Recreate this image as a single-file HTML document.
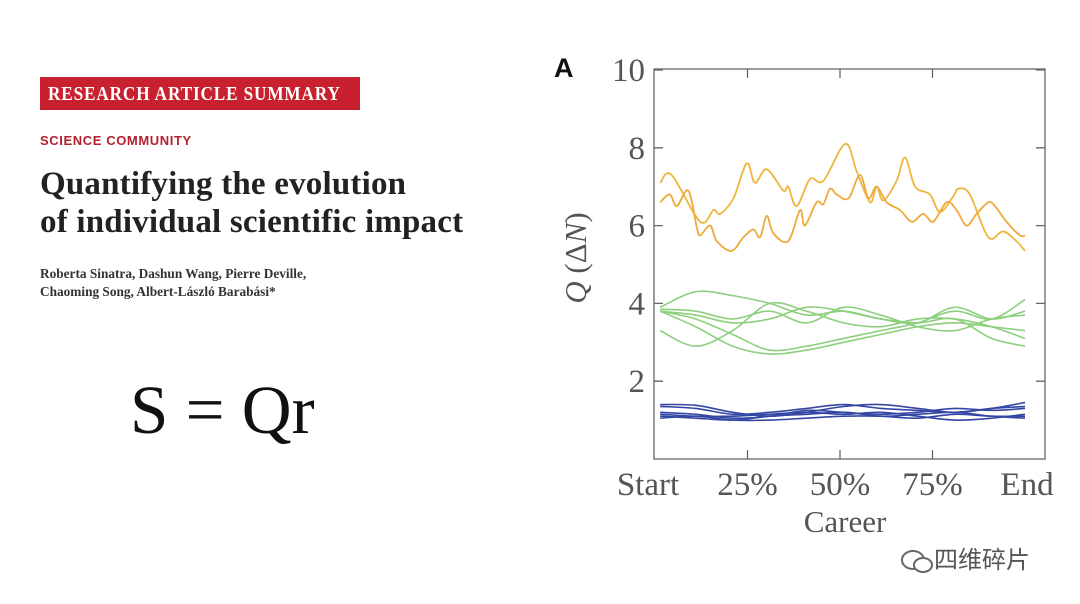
<!DOCTYPE html>
<html><head><meta charset="utf-8"><style>
body{margin:0;width:1080px;height:604px;background:#fff;position:relative;overflow:hidden;font-family:"Liberation Serif",serif}
.abs{position:absolute}
</style></head><body>
<div class="abs" style="left:40px;top:77px;width:320px;height:33px;background:#c8202e"></div>
<div class="abs" style="left:48px;top:80px;color:#fff;font-weight:bold;font-size:20px;letter-spacing:1px;line-height:28px;transform:scaleX(0.86);transform-origin:left;white-space:nowrap">RESEARCH ARTICLE SUMMARY</div>
<div class="abs" style="left:40px;top:133px;color:#b5202e;font-family:'Liberation Sans',sans-serif;font-weight:bold;font-size:13px;letter-spacing:0.6px">SCIENCE COMMUNITY</div>
<div class="abs" style="left:40px;top:165px;color:#222;font-weight:bold;font-size:33px;line-height:38px;letter-spacing:0.2px;white-space:nowrap">Quantifying the evolution<br>of individual scientific impact</div>
<div class="abs" style="left:40px;top:265px;color:#333;font-weight:bold;font-size:13.3px;line-height:18px;white-space:nowrap">Roberta Sinatra, Dashun Wang, Pierre Deville,<br>Chaoming Song, Albert-László Barabási*</div>
<div class="abs" style="left:130px;top:370px;color:#111;font-size:69px;line-height:80px;white-space:nowrap">S = Qr</div>
<div class="abs" style="left:900px;top:540px;color:#555;font-family:'Liberation Sans','Noto Sans CJK SC',sans-serif;font-size:24px">
<svg width="34" height="28" style="vertical-align:middle" viewBox="0 0 34 28"><ellipse cx="13" cy="12" rx="11" ry="9" fill="none" stroke="#666" stroke-width="2"/><ellipse cx="23" cy="17" rx="9" ry="7" fill="#fff" stroke="#666" stroke-width="2"/></svg>四维碎片</div>
<svg class="abs" style="left:0;top:0" width="1080" height="604" id="chart"></svg>
<script>
const xTicks=[0,25,50,75,100];
const xTickLabels=["Start","25%","50%","75%","End"];
const yTicks=[2,4,6,8,10];
const orangeX1=[1.4,4.5,12.2,15.8,17.6,21.2,24.8,27,30.2,34.7,36,38.3,41.9,45.5,51.4,54.5,58.1,59.9,61.7,65.3,67.6,70.3,74.3,77,80.6,82,85.1,90.1,94.1,97.7,100];
const orangeY1=[7.1,7.3,6.1,6.4,6.3,6.7,7.6,7.1,7.45,6.9,7.0,6.5,7.2,7.15,8.1,7.4,6.6,7.0,6.65,7.15,7.75,7.0,6.8,6.35,6.75,6.95,6.8,5.7,5.85,5.6,5.35];
const orangeX2=[1.4,4.0,5.9,9.0,11.3,12.2,14.9,16.7,20.7,23.9,26.6,28.4,30.2,32,36,39.2,40.5,43.7,45.5,47.3,49.1,52.3,55.4,57.7,59.9,62.6,66.2,69.4,72.5,75.2,78.8,81.5,84.2,86.9,90.1,91.9,95,98.6,100];
const orangeY2=[6.6,6.8,6.5,6.9,5.95,5.75,6.0,5.6,5.35,5.7,5.9,5.7,6.25,5.8,5.6,6.4,6.0,6.6,6.55,6.95,6.8,6.7,7.3,6.7,7.0,6.6,6.4,6.1,6.3,6.1,6.6,6.4,6.0,6.3,6.6,6.5,6.1,5.75,5.75];
const gridX=[1.4,11,21,31,41,51,61,71,81,91,100];
const greenSeries=[
[3.9,4.3,4.2,4.0,3.7,3.8,3.6,3.5,3.9,3.6,3.8],
[3.8,3.4,2.9,2.7,2.8,3.0,3.2,3.4,3.5,3.4,3.3],
[3.3,2.9,3.3,4.0,3.8,3.5,3.4,3.6,3.6,3.4,3.1],
[3.8,3.6,3.2,2.8,2.9,3.1,3.3,3.5,3.8,3.6,4.1],
[3.8,3.7,3.5,3.6,3.9,3.8,3.6,3.5,3.6,3.1,2.9],
[3.85,3.8,3.6,3.8,3.5,3.9,3.7,3.4,3.3,3.6,3.7]];
const blueSeries=[
[1.4,1.38,1.2,1.1,1.2,1.35,1.4,1.3,1.2,1.3,1.45],
[1.35,1.3,1.15,1.2,1.3,1.4,1.3,1.25,1.2,1.3,1.35],
[1.2,1.15,1.05,1.1,1.25,1.2,1.15,1.2,1.3,1.25,1.3],
[1.1,1.05,1.0,1.1,1.15,1.2,1.1,1.15,1.2,1.1,1.05],
[1.05,1.1,1.0,1.0,1.05,1.1,1.1,1.05,1.15,1.1,1.1],
[1.15,1.1,1.1,1.15,1.2,1.15,1.2,1.1,1.0,1.05,1.15]];

const svg=document.getElementById('chart');
const NS='http://www.w3.org/2000/svg';
const X0=655,X1=1025,Y0=459,Y10=70;
const sx=v=>X0+(X1-X0)*v/100;
const sy=v=>Y0-(Y0-Y10)*v/10;
function mk(t,a,txt){const e=document.createElementNS(NS,t);for(const k in a)e.setAttribute(k,a[k]);if(txt!==undefined)e.textContent=txt;svg.appendChild(e);return e;}
let f=mk('rect',{x:654,y:69,width:391,height:390,fill:'none',stroke:'#666','stroke-width':1.3});


yTicks.forEach(v=>{
 const y=sy(v);
 let t=mk('path',{d:`M654 ${y}h9M1045 ${y}h-9`,stroke:'#666','stroke-width':1.3});
 
 
 let l=mk('text',{x:645,y:y+11,'text-anchor':'end','font-size':33,fill:'#555','font-family':'Liberation Serif, serif'},String(v));
 
 
});
xTicks.forEach((v,i)=>{
 const x=sx(v);
 if(i>0&&i<4){let t=mk('path',{d:`M${x} 459v-9M${x} 69v9`,stroke:'#666','stroke-width':1.3});
 
 }
 let l=mk('text',{x:x-(i==0?7:0)+(i==4?2:0),y:495,'text-anchor':'middle','font-size':33,fill:'#555','font-family':'Liberation Serif, serif'},xTickLabels[i]);
 
 
});
let xt=mk('text',{x:845,y:532,'text-anchor':'middle','font-size':31,fill:'#555','font-family':'Liberation Serif, serif'},'Career');


let yt=mk('text',{x:0,y:0,'text-anchor':'middle','font-size':31,fill:'#555','font-family':'Liberation Serif, serif',transform:'translate(586,258) rotate(-90)'});
yt.innerHTML='<tspan font-style="italic">Q</tspan> (Δ<tspan font-style="italic">N</tspan>)';


let pa=mk('text',{x:554,y:77,'font-size':27,'font-weight':'bold',fill:'#111','font-family':'Liberation Sans, sans-serif'},'A');


function smooth(xs,ys){
 const p=xs.map((x,i)=>[sx(x),sy(ys[i])]);
 let d=`M${p[0][0]} ${p[0][1]}`;
 for(let i=0;i<p.length-1;i++){
  const a=p[i-1]||p[i],b=p[i],c=p[i+1],e=p[i+2]||c;
  d+=` C${b[0]+(c[0]-a[0])/6} ${b[1]+(c[1]-a[1])/6} ${c[0]-(e[0]-b[0])/6} ${c[1]-(e[1]-b[1])/6} ${c[0]} ${c[1]}`;
 }
 return d;
}
function line(xs,ys,col,name,w){
 const e=mk('path',{d:smooth(xs,ys),fill:'none',stroke:col,'stroke-width':w,'stroke-linejoin':'round'});
 
 
}
blueSeries.forEach((s,i)=>line(gridX,s,'#3346a4','blue-series-'+(i+1),1.6));
greenSeries.forEach((s,i)=>line(gridX,s,'#8ccf7c','green-series-'+(i+1),1.6));
line(orangeX1,orangeY1,'#f0b53e','orange-series-1',1.8);
line(orangeX2,orangeY2,'#eeaa3a','orange-series-2',1.8);
</script>
</body></html>
